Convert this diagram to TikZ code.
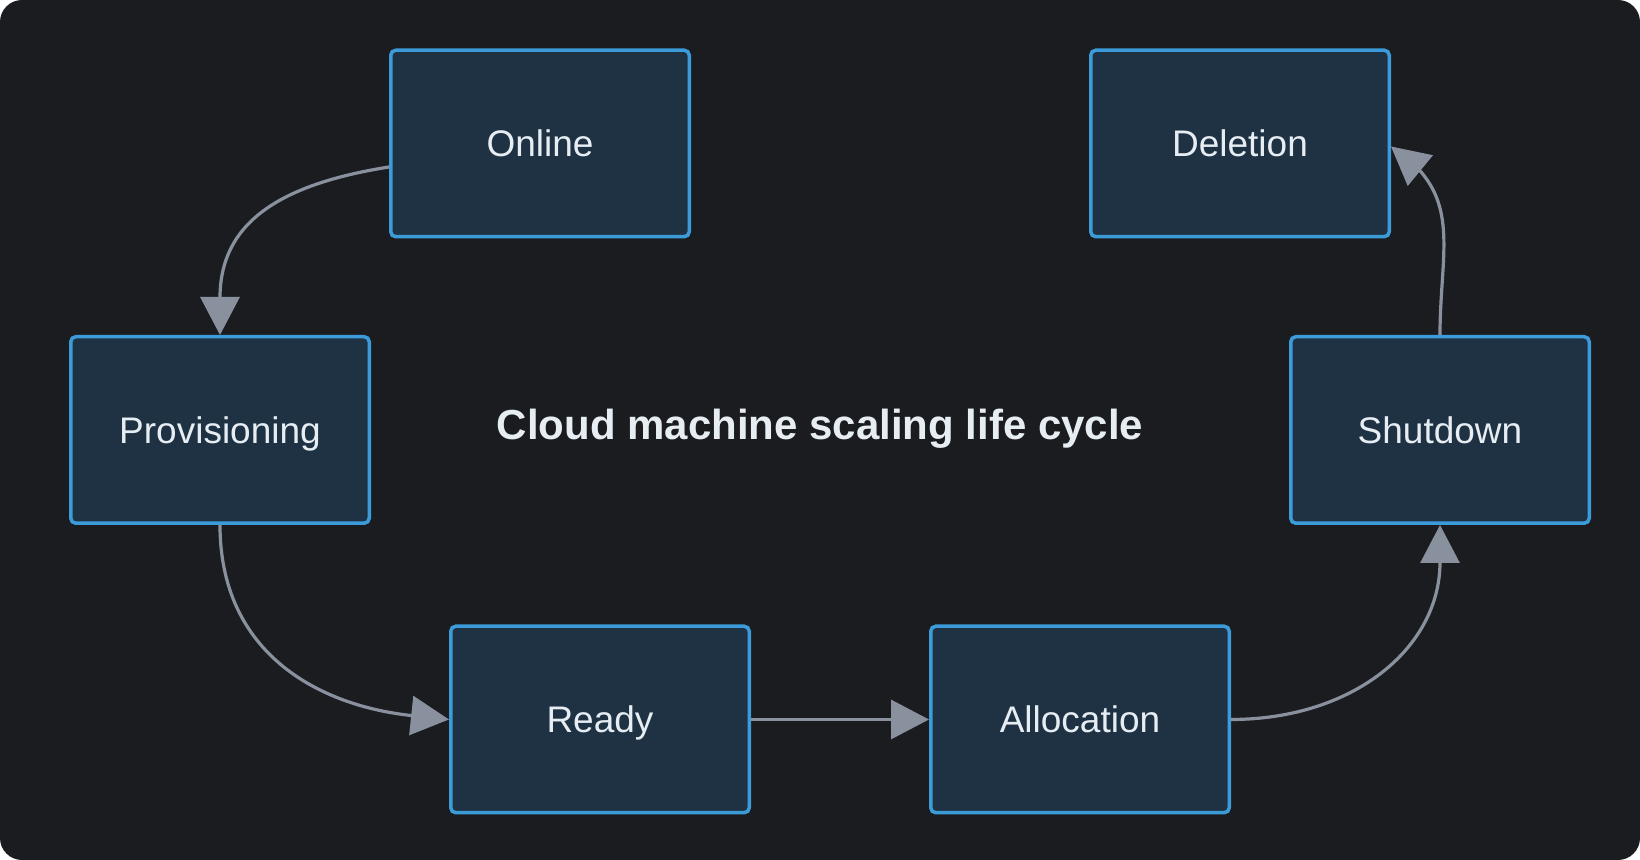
\documentclass[tikz,border=0pt]{standalone}
\usepackage{fontspec}
\setmainfont{Liberation Sans}
\usepackage{tikz}
\usetikzlibrary{arrows.meta,bending,positioning}
\definecolor{canvas}{HTML}{1B1C20}
\definecolor{boxfill}{HTML}{1F3244}
\definecolor{boxline}{HTML}{3C9BD9}
\definecolor{edge}{HTML}{8A919E}
\definecolor{label}{HTML}{E6EDF3}
\tikzset{
  stage/.style={rectangle, rounded corners=2.5pt, draw=boxline, line width=1.75pt, fill=boxfill,
                text=label, font=\fontsize{18.5}{22}\selectfont,
                minimum width=149.25pt, minimum height=93.25pt, text height=13.25pt, text depth=0pt},
  flow/.style={-{Triangle[length=19pt, width=19.5pt, quick]}, line width=1.6pt, draw=edge},
  flowbent/.style={-{Triangle[length=19pt, width=19.5pt, flex]}, line width=1.6pt, draw=edge},
}

\begin{document}
\begin{tikzpicture}[x=1pt, y=1pt, node distance=89pt]
        \fill[white] (0,0) rectangle (820,430);
        \useasboundingbox (0,0) rectangle (820,430);
        \fill[canvas, rounded corners=11pt] (0,0) rectangle (820,430);
        \node[stage] (online) at (270,358.25) {Online};
        \node[stage, right=199pt of online] (del) {Deletion};
        \node[stage] (prov) at (110,215) {Provisioning};
        \node[stage] (shut) at (720,215) {Shutdown};
        \node[stage] (ready) at (300,70.25) {Ready};
        \node[stage, right=of ready] (alloc) {Allocation};
        \node[text=label, font=\bfseries\fontsize{21}{25}\selectfont, text height=15pt, text depth=0pt] (title) at (410,217.5) {Cloud machine scaling life cycle};
        \draw[flow] ([yshift=-11.75pt]online.west) to[out=189, in=90, looseness=1.2] (prov.north);
        \draw[flow] (prov.south) to[out=-90, in=174, looseness=1.1] (ready.west);
        \draw[flow] (ready) -- (alloc);
        \draw[flow] (alloc.east) to[out=0, in=-90, looseness=1.1] (shut.south);
        \draw[flowbent] (shut.north) to[out=90, in=-33, looseness=1.15] ([yshift=-1.5pt]del.east);
      \end{tikzpicture}
\end{document}
